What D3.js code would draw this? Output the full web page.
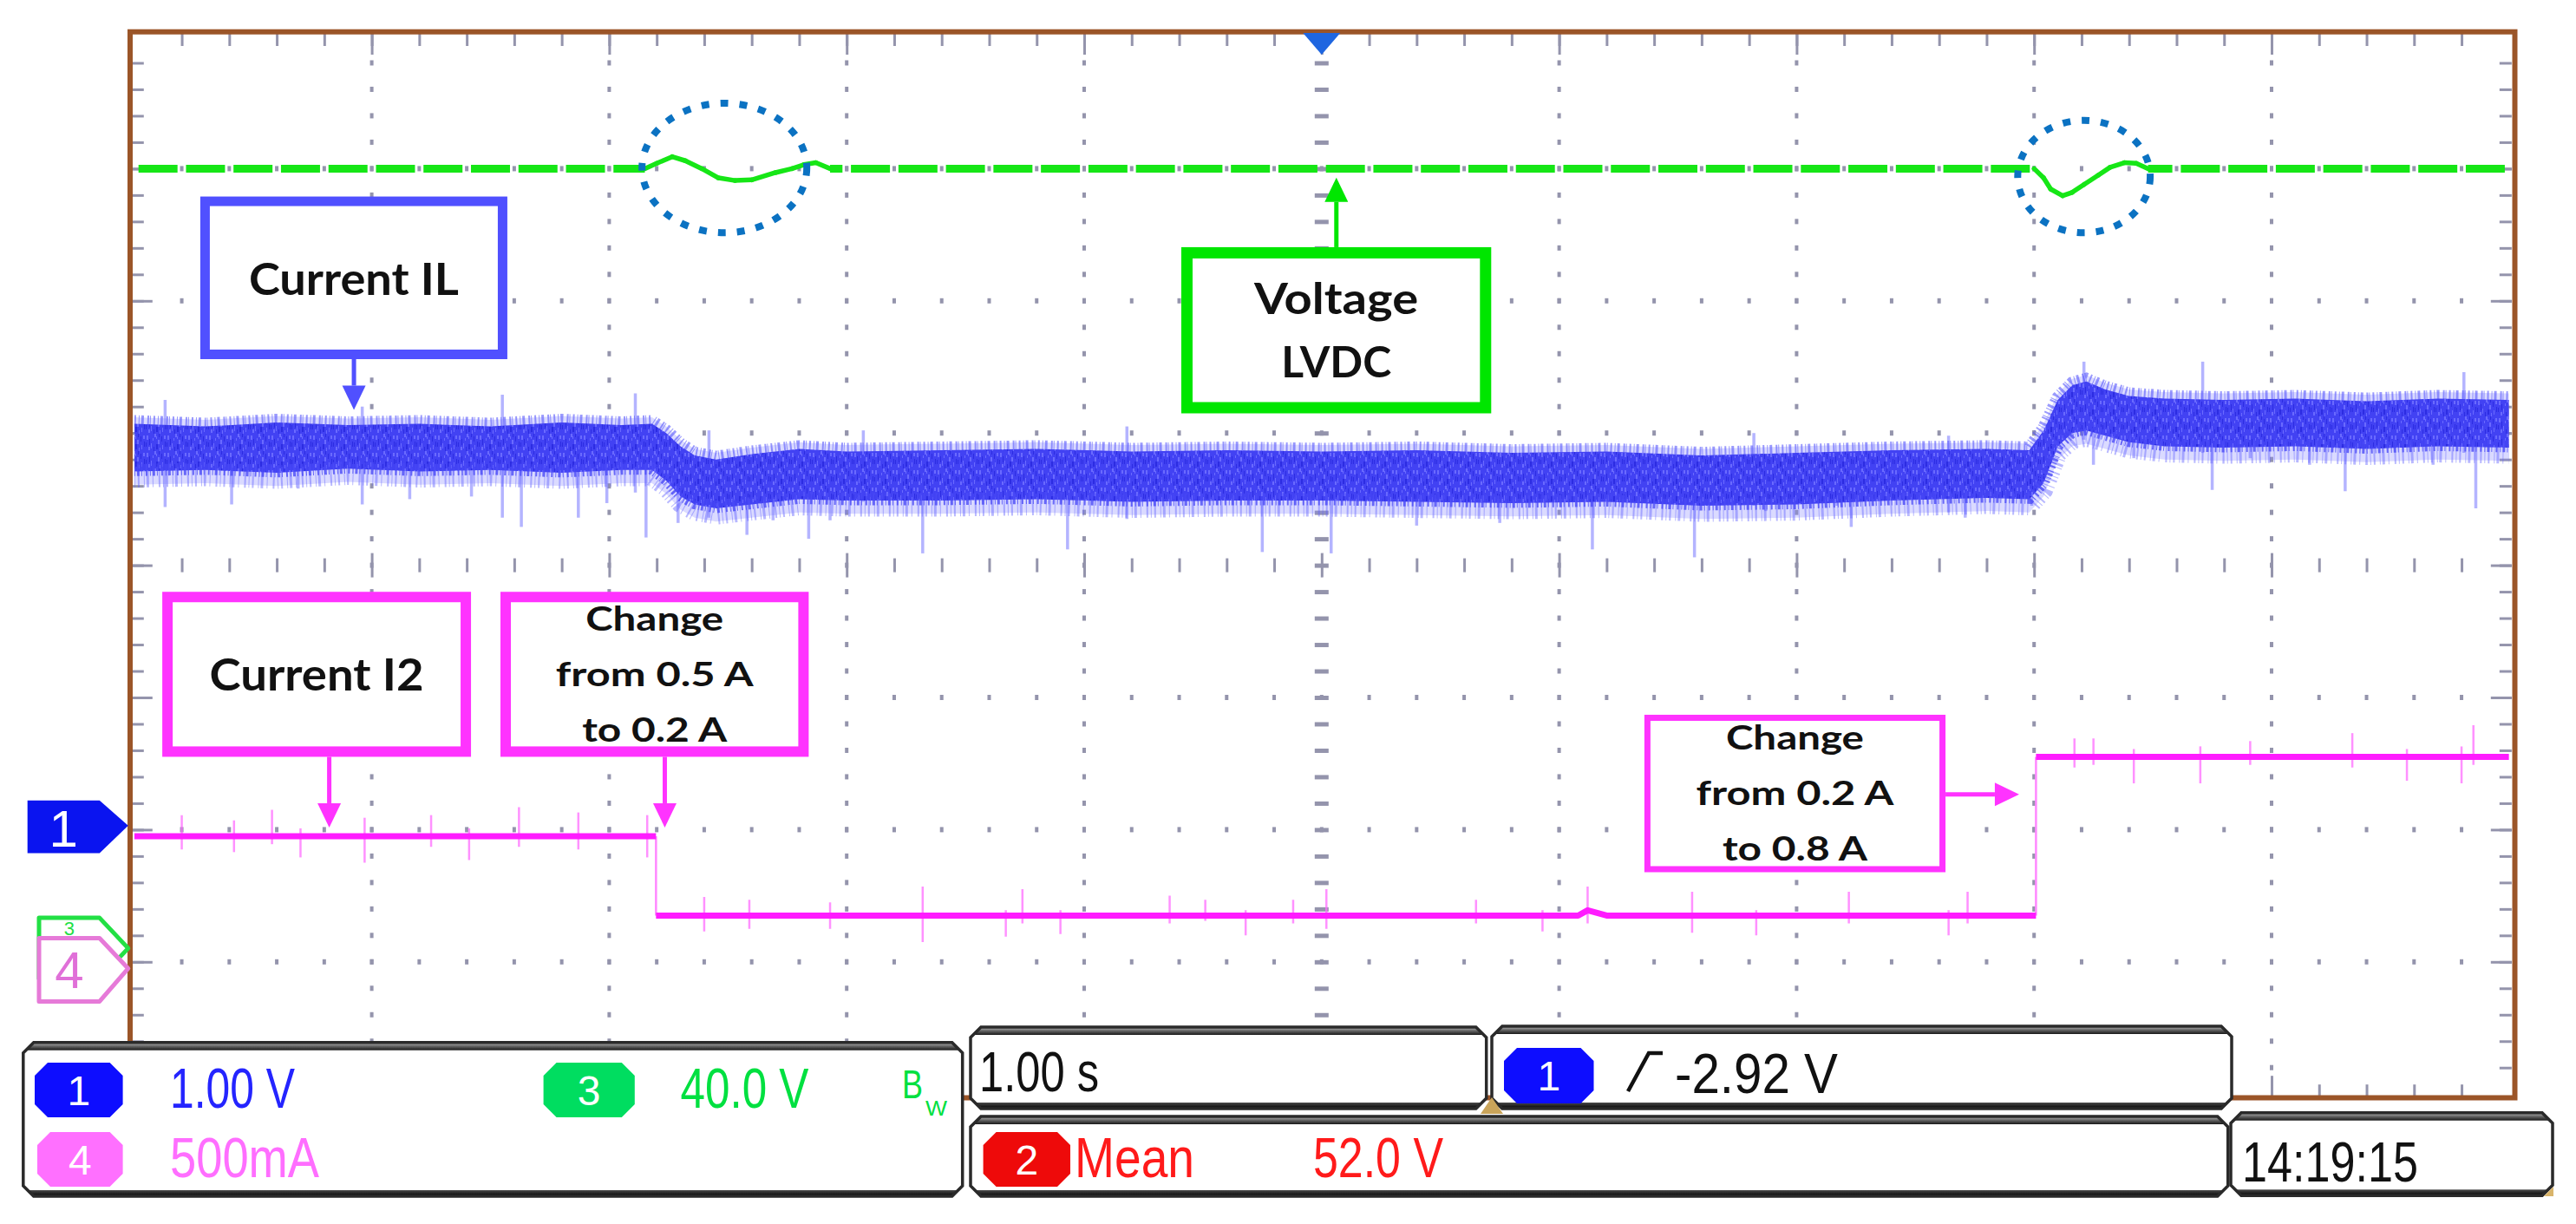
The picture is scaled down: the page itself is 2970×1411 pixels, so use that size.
<!DOCTYPE html>
<html>
<head>
<meta charset="utf-8">
<title>Oscilloscope capture – load step</title>
<script src="https://cdn.jsdelivr.net/npm/d3@7/dist/d3.min.js"></script>
<style>
  html, body { margin: 0; padding: 0; background: #ffffff; }
  svg { display: block; }
</style>
</head>
<body>
<svg id="chart" width="2970" height="1411" xmlns="http://www.w3.org/2000/svg"></svg>
<script>
// ===================== DATA (read from the capture) =====================
// Horizontal: 1.00 s/div over 10 divisions (seconds from the left edge)
const timeDomain = [0, 10];
const triggerTime = 5;
// Vertical: 8 screen divisions, expressed as divisions from the centre line
const divDomain = [-4, 4];

// Channel ground markers (divisions) and per-division scales
const channelZeroDiv = { ch1: -1.97, ch3: -2.897, ch4: -3.05 };
const ch4AmpsPerDiv = 0.5;

// Ch3 – voltage LVDC (green), position in divisions
const ch3Time = [0, 2.15, 2.2, 2.265, 2.32, 2.39, 2.46, 2.53, 2.60, 2.70, 2.77, 2.82, 2.87, 2.93,
                 8.0, 8.04, 8.07, 8.12, 8.16, 8.21, 8.27, 8.32, 8.38, 8.43, 8.48, 10];
const ch3Div  = [3.0, 3.0, 3.04, 3.09, 3.06, 3.0, 2.93, 2.91, 2.915, 2.97, 3.0, 3.03, 3.045, 3.0,
                 3.0, 2.93, 2.845, 2.795, 2.82, 2.88, 2.95, 3.01, 3.045, 3.04, 3.0, 3.0];

// Ch1 – current IL (blue): upper / lower edge of the dense noise band (divisions)
const ch1Time  = [0, 0.3, 0.6, 0.9, 1.2, 1.5, 1.8, 2.05, 2.18, 2.24, 2.30, 2.36, 2.45, 2.6, 2.8, 3.0,
                  3.4, 3.8, 4.2, 4.6, 5.0, 5.4, 5.8, 6.2, 6.6, 7.0, 7.4, 7.8, 7.98, 8.04, 8.10, 8.16,
                  8.22, 8.30, 8.40, 8.55, 8.8, 9.1, 9.4, 9.7, 10];
const ch1Upper = [1.07, 1.05, 1.08, 1.06, 1.07, 1.05, 1.08, 1.06, 1.07, 1.0, 0.90, 0.83, 0.80, 0.84, 0.88, 0.86,
                  0.87, 0.88, 0.86, 0.87, 0.86, 0.87, 0.85, 0.86, 0.83, 0.85, 0.87, 0.88, 0.87, 1.02, 1.25, 1.36,
                  1.39, 1.33, 1.28, 1.26, 1.25, 1.26, 1.24, 1.26, 1.25];
const ch1Lower = [0.71, 0.72, 0.70, 0.73, 0.71, 0.72, 0.70, 0.72, 0.72, 0.64, 0.52, 0.46, 0.43, 0.46, 0.50, 0.49,
                  0.49, 0.50, 0.48, 0.49, 0.49, 0.48, 0.47, 0.48, 0.45, 0.46, 0.49, 0.51, 0.50, 0.62, 0.90, 1.00,
                  1.02, 0.98, 0.93, 0.90, 0.89, 0.90, 0.88, 0.90, 0.89];
// Ch1 isolated noise spikes: time, lowest and highest excursion (divisions)
const ch1SpikeTime = [0.13, 0.41, 0.69, 0.96, 1.16, 1.42, 1.55, 1.63, 1.87, 1.99, 2.11, 2.155, 2.29, 2.42, 2.58,
                      2.69, 2.84, 2.93, 3.07, 3.32, 3.93, 4.18, 4.75, 5.04, 5.40, 5.75, 6.14, 6.57, 6.82, 6.87,
                      7.17, 7.23, 7.64, 7.71, 7.99, 8.21, 8.25, 8.42, 8.71, 8.75, 8.91, 9.16, 9.31, 9.68, 9.81, 9.86];
const ch1SpikeLow  = [0.44, 0.46, 0.58, 0.46, 0.50, 0.52, 0.36, 0.29, 0.36, 0.47, 0.55, 0.21, 0.32, 0.36, 0.23,
                      0.34, 0.20, 0.34, 0.48, 0.09, 0.12, 0.35, 0.10, 0.09, 0.30, 0.32, 0.12, 0.06, 0.45, 0.41,
                      0.45, 0.29, 0.40, 0.36, 0.45, 0.95, 0.76, 0.81, 0.85, 0.57, 0.81, 0.76, 0.56, 0.76, 0.85, 0.43];
const ch1SpikeHigh = [1.25, 1.05, 1.05, 1.20, 1.05, 1.05, 1.29, 1.0, 1.0, 1.0, 1.30, 1.0, 0.8, 1.02, 0.8,
                      0.8, 0.8, 0.8, 1.02, 0.8, 0.8, 1.05, 0.8, 0.8, 0.8, 0.8, 0.8, 0.8, 1.0, 0.8,
                      0.8, 0.8, 0.98, 0.8, 0.8, 1.54, 1.2, 1.2, 1.54, 1.2, 1.2, 1.2, 1.2, 1.2, 1.46, 1.2];

// Ch4 – current I2 (magenta) in amperes (500 mA/div)
const ch4Time = [0, 2.197, 2.197, 6.08, 6.12, 6.16, 6.20, 8.008, 8.008, 10];
const ch4Amp  = [0.5, 0.5, 0.2, 0.2, 0.22, 0.21, 0.2, 0.2, 0.8, 0.8];
const ch4SpikeTime = [0.20, 0.42, 0.58, 0.70, 0.97, 1.25, 1.41, 1.62, 1.87, 2.16,
                      2.40, 2.59, 2.93, 3.32, 3.67, 3.74, 3.90, 4.36, 4.51, 4.68,
                      4.88, 5.02, 5.65, 5.93, 6.12, 6.56, 6.83, 7.22, 7.64, 7.72,
                      8.17, 8.25, 8.42, 8.70, 8.91, 9.34, 9.57, 9.80, 9.85];
const ch4SpikeLow  = [0.45, 0.44, 0.47, 0.42, 0.40, 0.46, 0.41, 0.46, 0.45, 0.42,
                      0.14, 0.15, 0.15, 0.10, 0.12, 0.17, 0.13, 0.17, 0.18, 0.125,
                      0.17, 0.15, 0.17, 0.14, 0.17, 0.135, 0.125, 0.17, 0.125, 0.17,
                      0.76, 0.77, 0.70, 0.70, 0.77, 0.76, 0.71, 0.70, 0.77];
const ch4SpikeHigh = [0.58, 0.56, 0.60, 0.53, 0.57, 0.58, 0.53, 0.61, 0.59, 0.58,
                      0.27, 0.26, 0.25, 0.31, 0.22, 0.30, 0.22, 0.275, 0.26, 0.22,
                      0.26, 0.30, 0.26, 0.22, 0.31, 0.29, 0.22, 0.29, 0.22, 0.29,
                      0.87, 0.87, 0.83, 0.84, 0.86, 0.89, 0.83, 0.84, 0.92];

// Highlight ellipses round the LVDC transients (time s, divisions)
const circleTime = [2.485, 8.21];
const circleDiv = [3.005, 2.94];
const circleHalfTime = [0.347, 0.279];
const circleHalfDiv = [0.49, 0.425];

// Annotation callouts (box corners and arrow tips in time s / divisions)
const annLines = [["Current IL"], ["Voltage", "LVDC"], ["Current I2"],
                  ["Change", "from 0.5 A", "to 0.2 A"], ["Change", "from 0.2 A", "to 0.8 A"]];
const annT0 = [0.278, 4.409, 0.118, 1.542, 6.359];
const annT1 = [1.571, 5.714, 1.418, 2.840, 7.627];
const annTop = [2.789, 2.406, -0.201, -0.201, -1.131];
const annBottom = [1.559, 1.149, -1.449, -1.449, -2.322];
const annArrowSide = ["bottom", "top", "bottom", "bottom", "right"];
const annArrowT = [0.925, 5.062, 0.821, 2.234, 7.937];
const annArrowDiv = [1.175, 2.932, -1.984, -1.984, -1.733];

// Readouts
const ch1ScaleText = "1.00 V";
const ch3ScaleText = "40.0 V";
const ch4ScaleText = "500mA";
const timebaseText = "1.00 s";
const triggerText = "-2.92 V";
const measureName = "Mean";
const measureValue = "52.0 V";
const clockText = "14:19:15";

// ===================== STYLES / LAYOUT =====================
const annStyle = [
  { color: "#5050ff", bw: 11, font: 51, gap: 0,    base: 20,   widths: [242] },
  { color: "#00e600", bw: 13, font: 50, gap: 72.8, base: 18,   widths: [189, 127] },
  { color: "#ff33ff", bw: 12, font: 51, gap: 0,    base: 19,   widths: [247] },
  { color: "#ff33ff", bw: 12, font: 39, gap: 64,   base: 13.5, widths: [159, 228, 167] },
  { color: "#ff33ff", bw: 7,  font: 39, gap: 64,   base: 13.5, widths: [159, 228, 167] }
];
const gridColor = "#9494ac";
const frameColor = "#9b5528";

// ===================== DRAWING =====================
const svg = d3.select("#chart");
const defs = svg.append("defs");

const x = d3.scaleLinear().domain(timeDomain).range([154.8, 2892.8]);
const y = d3.scaleLinear().domain(divDomain).range([1261.2, 42]);

// noise texture for the dense ch1 band (fixed speckle tile)
const pat = defs.append("pattern").attr("id", "noise")
  .attr("patternUnits", "userSpaceOnUse").attr("width", 24).attr("height", 20);
pat.append("rect").attr("width", 24).attr("height", 20).attr("fill", "#4242f3");
[[1, 2, 2, 5], [6, 11, 1, 6], [10, 0, 2, 4], [14, 7, 2, 5], [19, 13, 1, 5], [21, 2, 2, 4],
 [3, 15, 2, 4], [16, 16, 1, 4], [8, 5, 1, 3], [12, 3, 1, 3]]
  .forEach(r => pat.append("rect").attr("x", r[0]).attr("y", r[1]).attr("width", r[2]).attr("height", r[3]).attr("fill", "#6a6aff"));
[[4, 6, 1, 7], [12, 12, 2, 6], [18, 3, 1, 6], [22, 9, 1, 6], [0, 10, 1, 5], [9, 15, 1, 5], [15, 0, 1, 4]]
  .forEach(r => pat.append("rect").attr("x", r[0]).attr("y", r[1]).attr("width", r[2]).attr("height", r[3]).attr("fill", "#2c2ce2"));

// bevel gradients for the readout panels
const gTop = defs.append("linearGradient").attr("id", "bevelTop").attr("x1", 0).attr("y1", 0).attr("x2", 0).attr("y2", 1);
gTop.append("stop").attr("offset", "0%").attr("stop-color", "#c4c4c4");
gTop.append("stop").attr("offset", "45%").attr("stop-color", "#6a6a6a");
gTop.append("stop").attr("offset", "100%").attr("stop-color", "#181818");
const gBot = defs.append("linearGradient").attr("id", "bevelBot").attr("x1", 0).attr("y1", 0).attr("x2", 0).attr("y2", 1);
gBot.append("stop").attr("offset", "0%").attr("stop-color", "#4a4a4a");
gBot.append("stop").attr("offset", "100%").attr("stop-color", "#000000");

// ---------- graticule ----------
const minorT = d3.range(0, 51).map(i => i * 0.2);
const minorD = d3.range(-20, 21).map(i => i * 0.2);
const innerT = minorT.slice(1, -1);
const innerD = minorD.slice(1, -1);
const majorT = d3.range(1, 10);
const majorD = d3.range(-3, 4);
const isMajor = v => Math.abs(v - Math.round(v)) < 1e-6;

const gridG = svg.append("g");
majorT.filter(t => t !== triggerTime).forEach(t => {
  gridG.append("g").selectAll("rect").data(innerD).join("rect")
    .attr("x", x(t) - 2).attr("y", d => y(d) - 3)
    .attr("width", 4).attr("height", 6).attr("fill", gridColor);
});
majorD.filter(d => d !== 0).forEach(dv => {
  gridG.append("g").selectAll("rect").data(innerT).join("rect")
    .attr("x", t => x(t) - 2).attr("y", y(dv) - 3)
    .attr("width", 4).attr("height", 6).attr("fill", gridColor);
});

function styleAxis(g, w) {
  g.select(".domain").remove();
  g.selectAll("line").attr("stroke", gridColor).attr("stroke-width", w);
}
// centre cross-hair
gridG.append("g").attr("transform", `translate(${x(triggerTime) - 8},0)`)
  .call(d3.axisRight(y).tickValues(innerD).tickSize(16).tickFormat(""))
  .call(g => styleAxis(g, 5));
gridG.append("g").attr("transform", `translate(0,${y(0) - 8})`)
  .call(d3.axisBottom(x).tickValues(innerT.filter(t => !isMajor(t))).tickSize(16).tickFormat(""))
  .call(g => styleAxis(g, 3));
gridG.append("g").attr("transform", `translate(0,${y(0) - 14})`)
  .call(d3.axisBottom(x).tickValues(majorT).tickSize(28).tickFormat(""))
  .call(g => styleAxis(g, 3));
// edge ticks
gridG.append("g").attr("transform", `translate(0,${y(4) - 3})`)
  .call(d3.axisBottom(x).tickValues(innerT).tickSize(14).tickFormat("")).call(g => styleAxis(g, 3));
gridG.append("g").attr("transform", `translate(0,${y(4) - 3})`)
  .call(d3.axisBottom(x).tickValues(majorT).tickSize(24).tickFormat("")).call(g => styleAxis(g, 3));
gridG.append("g").attr("transform", `translate(0,${y(-4) + 3})`)
  .call(d3.axisTop(x).tickValues(innerT).tickSize(14).tickFormat("")).call(g => styleAxis(g, 3));
gridG.append("g").attr("transform", `translate(0,${y(-4) + 3})`)
  .call(d3.axisTop(x).tickValues(majorT).tickSize(24).tickFormat("")).call(g => styleAxis(g, 3));
gridG.append("g").attr("transform", `translate(${x(0) - 3},0)`)
  .call(d3.axisRight(y).tickValues(innerD).tickSize(14).tickFormat("")).call(g => styleAxis(g, 3));
gridG.append("g").attr("transform", `translate(${x(0) - 3},0)`)
  .call(d3.axisRight(y).tickValues(majorD).tickSize(24).tickFormat("")).call(g => styleAxis(g, 3));
gridG.append("g").attr("transform", `translate(${x(10) + 3},0)`)
  .call(d3.axisLeft(y).tickValues(innerD).tickSize(14).tickFormat("")).call(g => styleAxis(g, 3));
gridG.append("g").attr("transform", `translate(${x(10) + 3},0)`)
  .call(d3.axisLeft(y).tickValues(majorD).tickSize(24).tickFormat("")).call(g => styleAxis(g, 3));

// ---------- traces ----------
defs.append("clipPath").attr("id", "screen").append("rect")
  .attr("x", x(0)).attr("y", y(4)).attr("width", x(10) - x(0)).attr("height", y(-4) - y(4));
const tr = svg.append("g").attr("clip-path", "url(#screen)");

// Ch1 (blue)
const ch1Rows = ch1Time.map((t, i) => ({ t, hi: ch1Upper[i], lo: ch1Lower[i] }));
tr.append("path").datum(ch1Rows)
  .attr("d", d3.area().x(d => x(d.t)).y0(d => y(d.lo - 0.10)).y1(d => y(d.hi + 0.05)))
  .attr("fill", "#8484ff").attr("opacity", 0.30);
tr.append("g").selectAll("line").data(ch1SpikeTime).join("line")
  .attr("x1", t => x(t)).attr("x2", t => x(t))
  .attr("y1", (t, i) => y(ch1SpikeLow[i])).attr("y2", (t, i) => y(ch1SpikeHigh[i]))
  .attr("stroke", "#6a6aff").attr("stroke-opacity", 0.5).attr("stroke-width", 3.5);
// ragged fringe on both edges of the band
const edgeLine = key => d3.line().x(d => x(d.t)).y(d => y(d[key]));
tr.append("path").datum(ch1Rows.map(d => ({ t: d.t, v: d.lo - 0.05 })))
  .attr("d", edgeLine("v")).attr("fill", "none").attr("stroke", "#6262ff")
  .attr("stroke-width", 22).attr("stroke-opacity", 0.45)
  .attr("stroke-dasharray", "1 3 2 5 1 2 3 4 1 6 2 3");
tr.append("path").datum(ch1Rows.map(d => ({ t: d.t, v: d.hi + 0.02 })))
  .attr("d", edgeLine("v")).attr("fill", "none").attr("stroke", "#5656fb")
  .attr("stroke-width", 14).attr("stroke-opacity", 0.6)
  .attr("stroke-dasharray", "2 3 1 2 3 4 2 1 1 3");
tr.append("path").datum(ch1Rows)
  .attr("d", d3.area().x(d => x(d.t)).y0(d => y(d.lo)).y1(d => y(d.hi)))
  .attr("fill", "url(#noise)");
tr.append("path").datum(ch1Rows.map(d => ({ t: d.t, v: d.lo + 0.01 })))
  .attr("d", edgeLine("v")).attr("fill", "none").attr("stroke", "#4a4af6")
  .attr("stroke-width", 14).attr("stroke-opacity", 0.8)
  .attr("stroke-dasharray", "1 2 3 2 1 4 2 3");

// Ch4 (magenta)
const ch4Div = ch4Amp.map(a => channelZeroDiv.ch4 + a / ch4AmpsPerDiv);
const ch4Rows = ch4Time.map((t, i) => ({ t, v: ch4Div[i] }));
const ampY = a => y(channelZeroDiv.ch4 + a / ch4AmpsPerDiv);
tr.append("g").selectAll("line").data(ch4SpikeTime).join("line")
  .attr("x1", t => x(t)).attr("x2", t => x(t))
  .attr("y1", (t, i) => ampY(ch4SpikeLow[i])).attr("y2", (t, i) => ampY(ch4SpikeHigh[i]))
  .attr("stroke", "#ff6cff").attr("stroke-opacity", 0.75).attr("stroke-width", 2.5);
const lineTV = d3.line().x(d => x(d.t)).y(d => y(d.v));
d3.pairs(ch4Rows).filter(([a, b]) => a.t === b.t).forEach(([a, b]) => {
  tr.append("path").datum([a, b]).attr("d", lineTV).attr("fill", "none")
    .attr("stroke", "#ff88ff").attr("stroke-width", 2.5);
});
const ch4Runs = [];
let run = [ch4Rows[0]];
for (let i = 1; i < ch4Rows.length; i++) {
  if (ch4Rows[i].t === ch4Rows[i - 1].t) { ch4Runs.push(run); run = [ch4Rows[i]]; }
  else run.push(ch4Rows[i]);
}
ch4Runs.push(run);
ch4Runs.forEach(r => {
  tr.append("path").datum(r).attr("d", lineTV).attr("fill", "none")
    .attr("stroke", "#ff1cff").attr("stroke-width", 7).attr("stroke-linejoin", "round");
});

// Ch3 (green)
const ch3Rows = ch3Time.map((t, i) => ({ t, v: ch3Div[i] }));
const period = x(0.2) - x(0), dashLen = 45, gapLen = period - dashLen;
d3.pairs(ch3Rows).forEach(([a, b]) => {
  const flat = a.v === b.v;
  const p = tr.append("path").datum([a, b]).attr("d", lineTV).attr("fill", "none")
    .attr("stroke", "#16e616").attr("stroke-linecap", "butt");
  if (flat) {
    const r = ((x(a.t) - x(0)) % period + period) % period;
    p.attr("stroke-width", 9).attr("stroke-dasharray", `${dashLen} ${gapLen}`)
      .attr("stroke-dashoffset", (dashLen + gapLen / 2 + r) % period);
  } else {
    p.attr("stroke-width", 5.5).attr("stroke-linecap", "round");
  }
});

// highlight ellipses
svg.append("g").selectAll("ellipse").data(circleTime).join("ellipse")
  .attr("cx", t => x(t)).attr("cy", (t, i) => y(circleDiv[i]))
  .attr("rx", (t, i) => x(circleHalfTime[i]) - x(0))
  .attr("ry", (t, i) => y(0) - y(circleHalfDiv[i]))
  .attr("fill", "none").attr("stroke", "#0b72c2").attr("stroke-width", 8)
  .attr("stroke-dasharray", "9 13");

// ---------- annotation callouts ----------
const annG = svg.append("g");
annLines.forEach((lines, i) => {
  const st = annStyle[i];
  const x0 = x(annT0[i]), x1 = x(annT1[i]);
  const y0 = y(annTop[i]), y1 = y(annBottom[i]);
  const g = annG.append("g");
  const ah = 28, aw = 13.5;
  if (annArrowSide[i] === "bottom" || annArrowSide[i] === "top") {
    const ax = x(annArrowT[i]), tipY = y(annArrowDiv[i]);
    const down = annArrowSide[i] === "bottom";
    const startY = down ? y1 : y0;
    const baseY = down ? tipY - ah : tipY + ah;
    g.append("line").attr("x1", ax).attr("x2", ax).attr("y1", startY).attr("y2", baseY)
      .attr("stroke", st.color).attr("stroke-width", 5);
    g.append("path").attr("d", `M${ax - aw},${baseY} L${ax + aw},${baseY} L${ax},${tipY} Z`).attr("fill", st.color);
  } else {
    const ay = y(annArrowDiv[i]), tipX = x(annArrowT[i]);
    const baseX = tipX - ah;
    g.append("line").attr("x1", x1).attr("x2", baseX).attr("y1", ay).attr("y2", ay)
      .attr("stroke", st.color).attr("stroke-width", 5);
    g.append("path").attr("d", `M${baseX},${ay - aw} L${baseX},${ay + aw} L${tipX},${ay} Z`).attr("fill", st.color);
  }
  g.append("rect").attr("x", x0 + st.bw / 2).attr("y", y0 + st.bw / 2)
    .attr("width", x1 - x0 - st.bw).attr("height", y1 - y0 - st.bw)
    .attr("fill", "#ffffff").attr("stroke", st.color).attr("stroke-width", st.bw);
  const cx = (x0 + x1) / 2, mid = (y0 + y1) / 2;
  lines.forEach((txt, k) => {
    g.append("text").attr("x", cx)
      .attr("y", mid + st.base + (k - (lines.length - 1) / 2) * st.gap)
      .attr("text-anchor", "middle")
      .attr("font-family", "Lato, 'Open Sans', sans-serif").attr("font-weight", 700)
      .attr("font-size", st.font).attr("fill", "#111111")
      .attr("textLength", st.widths[k]).attr("lengthAdjust", "spacingAndGlyphs")
      .text(txt);
  });
});

// ---------- frame & trigger marker ----------
svg.append("rect")
  .attr("x", x(0) - 4.8).attr("y", y(4) - 5.3)
  .attr("width", (x(10) + 6.7) - (x(0) - 4.8)).attr("height", (y(-4) + 4.3) - (y(4) - 5.3))
  .attr("fill", "none").attr("stroke", frameColor).attr("stroke-width", 6);
svg.append("path")
  .attr("d", `M${x(triggerTime) - 21.5},${y(4) - 4} L${x(triggerTime) + 21.5},${y(4) - 4} L${x(triggerTime)},${y(4) + 21} Z`)
  .attr("fill", "#1f66e0");

// ---------- channel ground markers on the left ----------
function marker(zeroDiv, half0, half1, left, fill, stroke, label, labelColor, labelDy, labelSize) {
  const cy = y(zeroDiv), bodyR = x(0) - 40, tip = x(0) - 7;
  const g = svg.append("g");
  g.append("path")
    .attr("d", `M${left},${cy - half0} L${bodyR},${cy - half0} L${tip},${cy} L${bodyR},${cy + half1} L${left},${cy + half1} Z`)
    .attr("fill", fill).attr("stroke", stroke).attr("stroke-width", stroke === "none" ? 0 : 5)
    .attr("stroke-linejoin", "round");
  g.append("text").attr("x", (left + bodyR) / 2).attr("y", cy + labelDy)
    .attr("text-anchor", "middle").attr("font-family", "'Liberation Sans', Arial, sans-serif")
    .attr("font-size", labelSize).attr("fill", labelColor).text(label);
}
// ch3 marker is mostly hidden behind the ch4 marker; only its top strip shows
marker(channelZeroDiv.ch3, 35, 35, 45, "#ffffff", "#22e044", "3", "#22e044", -15, 22);
marker(channelZeroDiv.ch4, 35, 38, 45, "#ffffff", "#e67ad8", "4", "#e070d8", 23, 60);
marker(channelZeroDiv.ch1, 29, 31.6, 31.7, "#0a14f0", "none", "1", "#ffffff", 24, 60);

// ---------- readout panels ----------
let clipN = 0;
function chamfer(x0, y0, x1, y1, c) {
  return `M${x0 + c},${y0} L${x1 - c},${y0} L${x1},${y0 + c} L${x1},${y1 - c} L${x1 - c},${y1} L${x0 + c},${y1} L${x0},${y1 - c} L${x0},${y0 + c} Z`;
}
function panel(p) {
  const [x0, y0, x1, y1] = p;
  const d = chamfer(x0, y0, x1, y1, 12);
  const id = "pclip" + (clipN++);
  defs.append("clipPath").attr("id", id).append("path").attr("d", d);
  const g = svg.append("g");
  g.append("path").attr("d", d).attr("fill", "#ffffff");
  const cg = g.append("g").attr("clip-path", `url(#${id})`);
  cg.append("rect").attr("x", x0).attr("y", y0).attr("width", x1 - x0).attr("height", 9).attr("fill", "url(#bevelTop)");
  cg.append("rect").attr("x", x0).attr("y", y1 - 7).attr("width", x1 - x0).attr("height", 7).attr("fill", "url(#bevelBot)");
  g.append("path").attr("d", d).attr("fill", "none").attr("stroke", "#2a2a2a").attr("stroke-width", 3.5);
}
const panelBoxes = [
  [26.8, 1201.7, 1109.7, 1379],
  [1119, 1184, 1713.7, 1278],
  [1720, 1183, 2573, 1278],
  [1119, 1287, 2568.7, 1379],
  [2572, 1282.7, 2943, 1378.3]
];
panelBoxes.forEach(panel);

function badge(x0, y0, x1, y1, fill, label) {
  svg.append("path").attr("d", chamfer(x0, y0, x1, y1, 15)).attr("fill", fill);
  svg.append("text").attr("x", (x0 + x1) / 2).attr("y", (y0 + y1) / 2 + 17)
    .attr("text-anchor", "middle").attr("font-family", "'Liberation Sans', Arial, sans-serif")
    .attr("font-size", 48).attr("fill", "#ffffff").text(label);
}
function readout(txt, x0, base, width, color, size) {
  svg.append("text").attr("x", x0).attr("y", base)
    .attr("font-family", "'Liberation Sans', Arial, sans-serif").attr("font-size", size || 64)
    .attr("fill", color).attr("textLength", width).attr("lengthAdjust", "spacingAndGlyphs").text(txt);
}
badge(40, 1225, 141.6, 1288, "#0d0dff", "1");
badge(43, 1305, 141.6, 1368, "#ff70ff", "4");
badge(626.6, 1225, 731.8, 1288, "#00dd60", "3");
badge(1133.6, 1305, 1234, 1368, "#ee0a0a", "2");
badge(1734, 1208, 1837.5, 1272, "#0d0dff", "1");

readout(ch1ScaleText, 196, 1276.7, 144, "#2424ff");
readout(ch4ScaleText, 196, 1356.7, 172, "#ff6eff");
readout(ch3ScaleText, 784.5, 1276.7, 148, "#00e040");
readout("B", 1040, 1266, 24, "#00e040", 46);
readout("W", 1067, 1286, 25, "#00e040", 24);
readout(timebaseText, 1129, 1258, 138, "#111111");
readout(triggerText, 1931, 1260, 188, "#111111");
readout(measureName, 1239, 1356.7, 138, "#ff1a1a");
readout(measureValue, 1514, 1356.7, 150, "#ff1a1a");
readout(clockText, 2585, 1361.7, 203, "#111111");

// rising-edge trigger symbol
svg.append("path").attr("d", "M1877,1258 L1901,1214 L1917,1214")
  .attr("fill", "none").attr("stroke", "#111111").attr("stroke-width", 4.5);
// small position indicators
svg.append("path").attr("d", "M1720,1265 L1733,1284 L1707,1284 Z").attr("fill", "#c9a45a");
svg.append("path").attr("d", "M2944,1368 L2944,1379 L2933,1379 Z").attr("fill", "#d9b46a");
</script>
</body>
